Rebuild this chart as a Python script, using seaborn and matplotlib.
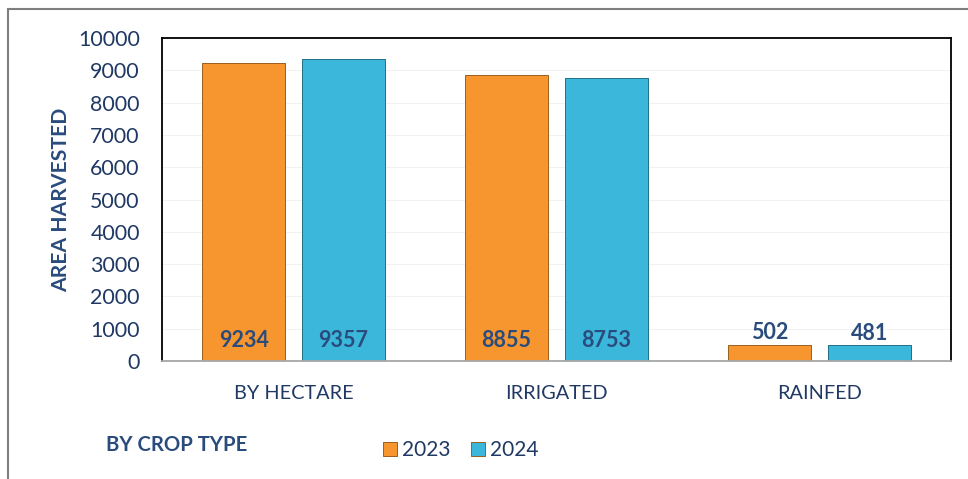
import pandas as pd
import seaborn as sns
import matplotlib.pyplot as plt
from matplotlib.patches import Rectangle

# dados do gráfico
categorias = ["BY HECTARE", "IRRIGATED", "RAINFED"]
anos = ["2023", "2024"]
valores_2023 = [9234, 8855, 502]
valores_2024 = [9357, 8753, 481]

df = pd.DataFrame({
    "categoria": categorias * 2,
    "ano": [anos[0]] * 3 + [anos[1]] * 3,
    "area": valores_2023 + valores_2024,
})

azul_texto = "#1F3864"
azul_rotulo = "#2A4C7D"
cores = {"2023": "#F7962F", "2024": "#3AB7DB"}

sns.set_theme(style="white")
plt.rcParams["font.family"] = ["Lato", "DejaVu Sans"]

fig = plt.figure(figsize=(9.68, 4.79), dpi=100)
ax = fig.add_axes([0.1674, 0.2463, 0.8150, 0.6744])

sns.barplot(data=df, x="categoria", y="area", hue="ano", order=categorias,
            hue_order=anos, palette=cores, width=0.76, gap=0.17,
            edgecolor="#9a5f1c", linewidth=0.7, saturation=1, ax=ax, legend=True)

# borda mais escura nas barras azuis
for p in ax.patches[3:6]:
    p.set_edgecolor("#1f6f85")

ax.set_ylim(0, 10000)
ax.set_yticks(range(0, 10001, 1000))
ax.yaxis.grid(True, color="#f2f2f2", linewidth=0.8)
ax.set_axisbelow(True)
ax.tick_params(axis="y", labelsize=15.4, labelcolor=azul_texto, pad=16, length=0)
ax.tick_params(axis="x", labelsize=14.3, labelcolor=azul_texto, pad=17, length=0)
ax.set_xlabel("")
ax.set_ylabel("AREA HARVESTED", fontsize=15.2, fontweight="bold", color=azul_rotulo, labelpad=5)

for lado in ["left", "top", "right"]:
    ax.spines[lado].set_color("black")
    ax.spines[lado].set_linewidth(1.3)
ax.spines["bottom"].set_color("#a6a6a6")
ax.spines["bottom"].set_linewidth(1.3)

# rótulos de dados
for p in ax.patches[:6]:
    h = p.get_height()
    xc = p.get_x() + p.get_width() / 2
    if h > 2000:
        ax.text(xc, 640, f"{int(round(h))}", ha="center", va="center",
                fontsize=15.5, fontweight="bold", color=azul_rotulo)
    else:
        ax.text(xc, h + 50, f"{int(round(h))}", ha="center", va="bottom",
                fontsize=15.5, fontweight="bold", color=azul_rotulo)

leg = ax.legend(loc="center", bbox_to_anchor=(0.476, 0.06), bbox_transform=fig.transFigure,
                ncol=2, frameon=False, fontsize=15, handlelength=0.65, handleheight=0.65,
                handletextpad=0.25, columnspacing=1.0)
for t in leg.get_texts():
    t.set_color(azul_texto)

fig.text(0.110, 0.072, "BY CROP TYPE", fontsize=14.6, fontweight="bold",
         color=azul_rotulo, ha="left", va="center")

# moldura externa
fig.patches.append(Rectangle((8 / 968, -0.05), 1.2, 1.05 - 9 / 479,
                             transform=fig.transFigure, fill=False,
                             edgecolor="#7f7f7f", linewidth=1.5, zorder=0))

fig.savefig("out.png", dpi=100)
plt.close()
